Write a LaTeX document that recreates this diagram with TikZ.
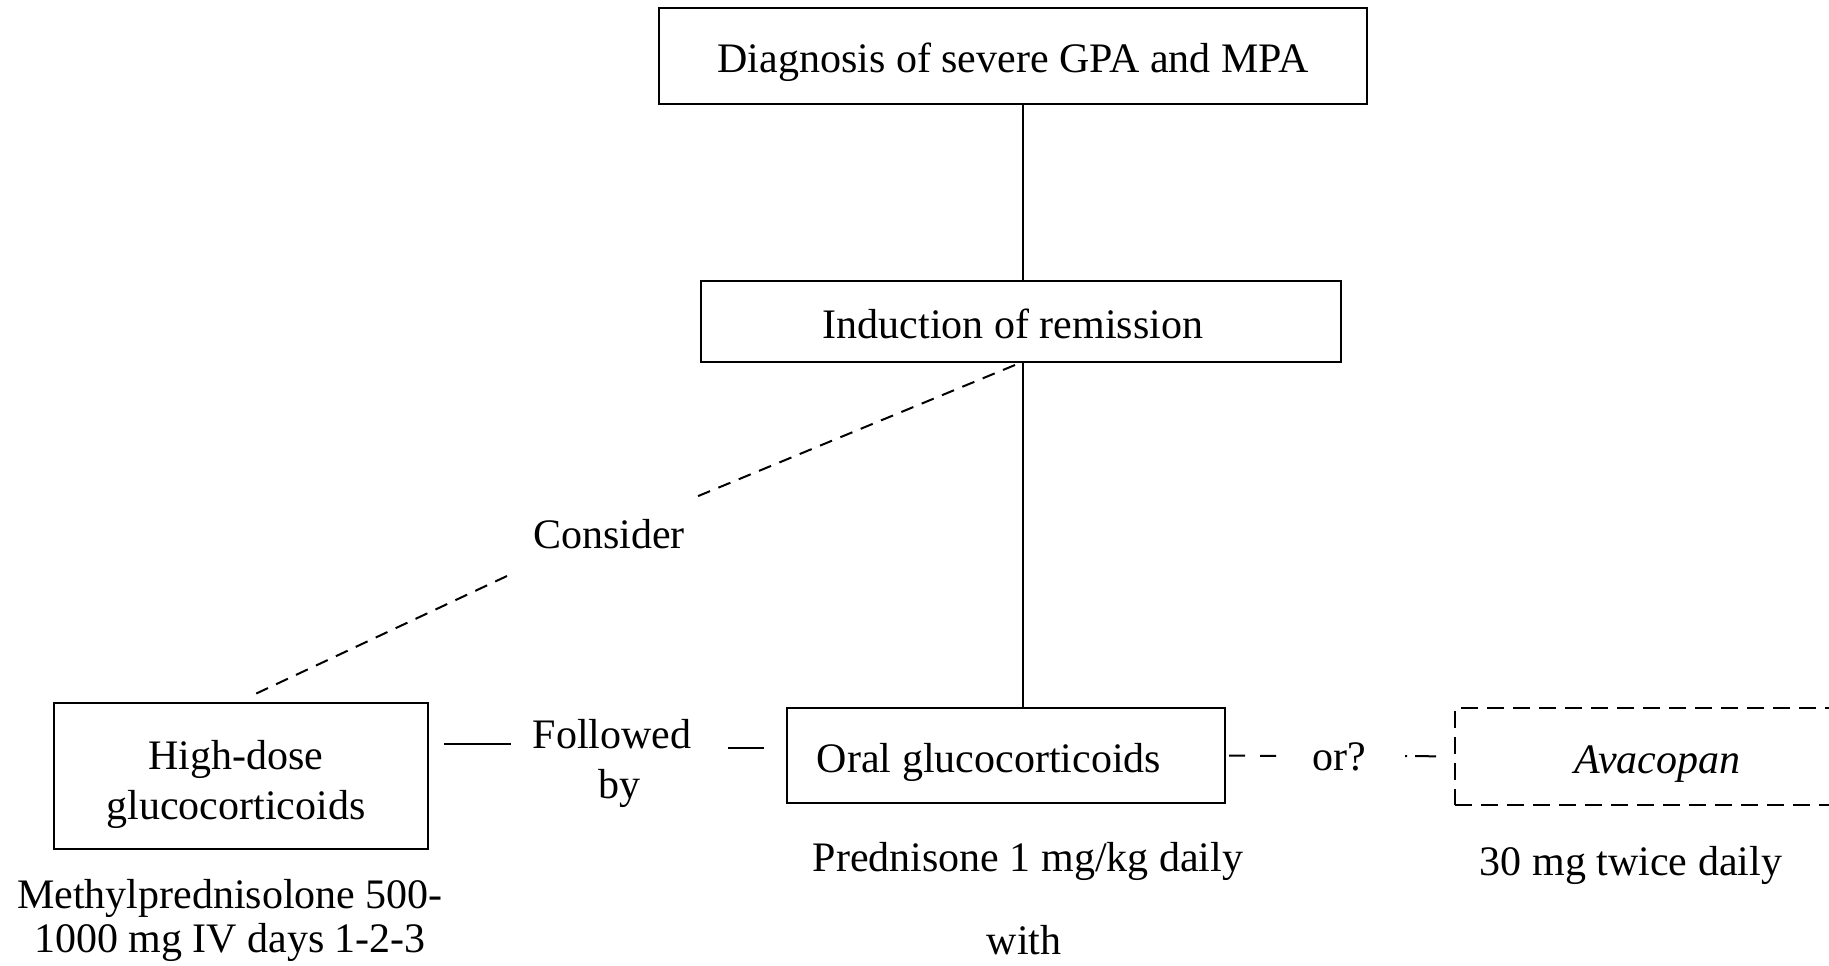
\documentclass[tikz,border=0pt]{standalone}
\usepackage{fontspec}
\setmainfont{Liberation Serif}
\begin{document}
\begin{tikzpicture}[x=1pt,y=-1pt,
  every node/.style={font=\fontsize{42}{50}\selectfont, inner sep=0pt},
  oneline/.style={text height=29pt, text depth=9pt},
  boxtext/.style={text height=38pt, text depth=4pt},
  box/.style={draw, line width=2.2pt},
  dashbox/.style={draw, line width=2.2pt, dash pattern=on 17pt off 9pt},
  conn/.style={line width=2pt},
  dconn/.style={line width=2pt, dash pattern=on 13pt off 9pt}]
\useasboundingbox (0,0) rectangle (1829,966);
\clip (0,0) rectangle (1829,966);
% nodes
\node[box, boxtext, minimum width=708pt, minimum height=96pt] (diag) at (1013,56) {Diagnosis of severe GPA and MPA};
\node[box, boxtext, minimum width=640pt, minimum height=81pt] (ind) at (1021,321.5) {\hspace*{-16pt}Induction of remission};
\node[oneline] (consider) at (609,538) {Consider};
\node[box, align=center, minimum width=374pt, minimum height=146pt] (hd) at (241,776) {\rule{0pt}{47pt}High-dose\hspace*{10pt}\\glucocorticoids\hspace*{10pt}};
\node[align=center] (fb) at (612,763) {Followed\\\hspace*{14pt}by};
\node[box, boxtext, minimum width=438pt, minimum height=95pt] (oral) at (1006,755.5) {Oral glucocorticoids\hspace*{34pt}};
\node[oneline] (or) at (1339,760) {or?};
\node[dashbox, boxtext, minimum width=405pt, minimum height=97pt] (ava) at (1657.5,756.5) {\itshape Avacopan};
\node[align=center, font=\fontsize{42}{44}\selectfont] (mp) at (230,920) {Methylprednisolone 500-\\1000 mg IV days 1-2-3};
\node[oneline] (pred) at (1028,861) {Prednisone 1 mg/kg daily};
\node[oneline] (with) at (1024,944) {with};
\node[oneline] (avadose) at (1631,865) {30 mg twice daily};
% coordinates
\coordinate (vx) at (1023,0);
\coordinate (d1) at (1015,365);
\coordinate (g1) at (691,499);
\coordinate (g2) at (507,576);
\coordinate (d2) at (251,696);
\coordinate (f1) at (444,744);
\coordinate (f2) at (511,744);
\coordinate (f3) at (728,748);
\coordinate (f4) at (764,748);
\coordinate (o1) at (1277,756);
\coordinate (o2) at (1405,756);
% connectors
\draw[conn] (diag.south -| vx) -- (ind.north -| vx);
\draw[conn] (ind.south -| vx) -- (oral.north -| vx);
\draw[dconn] (d1) -- (g1);
\draw[dconn] (g2) -- (d2);
\draw[conn] (f1) -- (f2);
\draw[conn] (f3) -- (f4);
\draw[line width=2pt, dash pattern=on 16pt off 15pt] (oral.east) ++(3,0) -- (o1);
\draw[line width=2pt, dash pattern=on 2pt off 8pt on 21pt off 19pt] (o2) -- (ava.west);
\end{tikzpicture}
\end{document}
